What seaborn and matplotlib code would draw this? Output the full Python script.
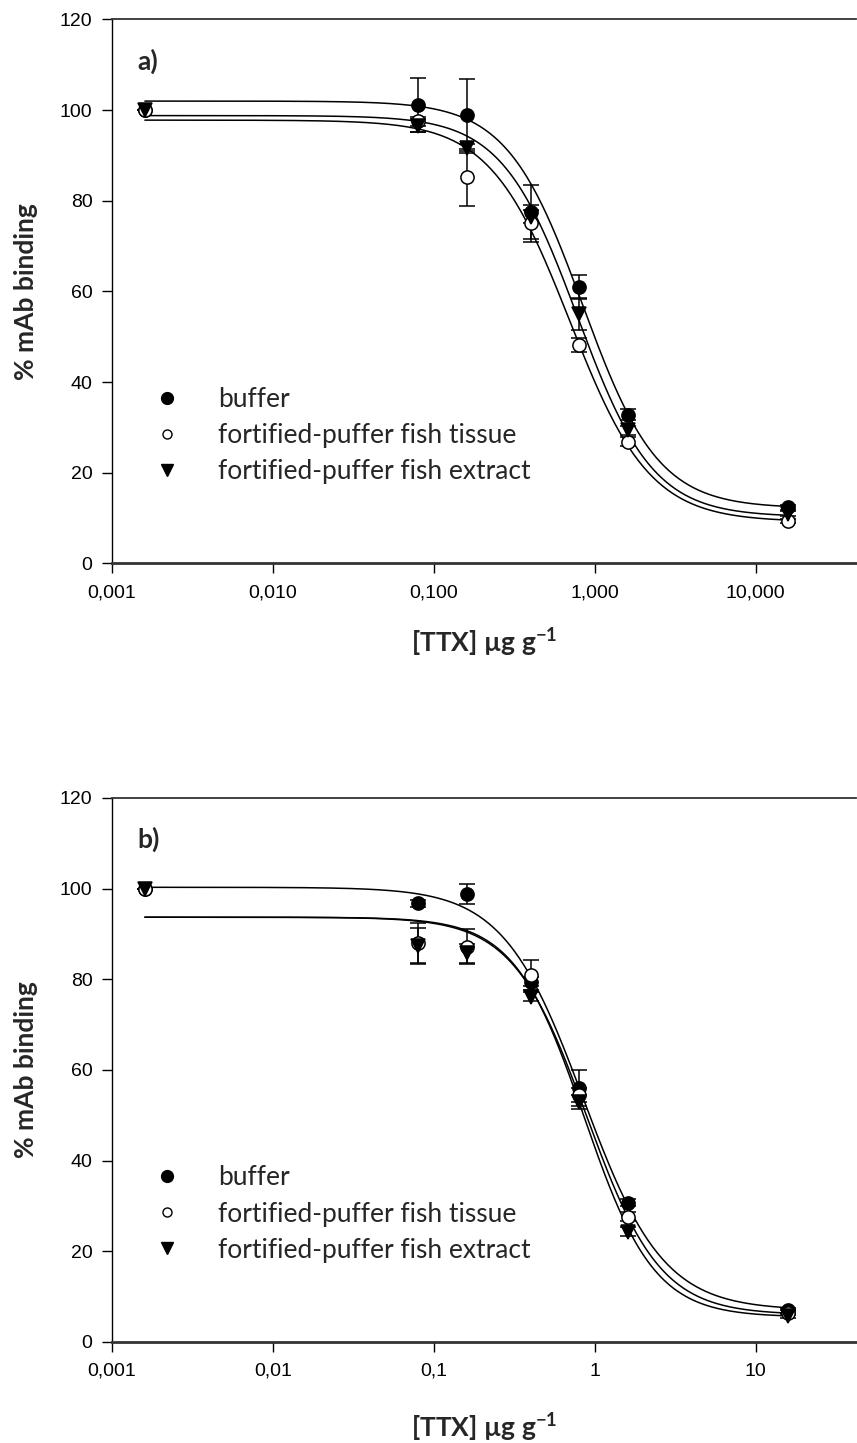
import numpy as np
import pandas as pd
import seaborn as sns
import matplotlib.pyplot as plt
from matplotlib.lines import Line2D

# concentrations ([TTX] ug/g) and series names
conc = [0.0016, 0.08, 0.16, 0.4, 0.8, 1.6, 16]
series = ['buffer', 'fortified-puffer fish tissue', 'fortified-puffer fish extract']

# panel a) values (% mAb binding) and error bars
a_buffer = [100, 101.1, 98.9, 77.5, 61.0, 32.8, 12.4]
a_buffer_err = [0, 6.0, 8.0, 6.0, 2.6, 1.2, 0.6]
a_tissue = [100, 97.5, 85.2, 75.0, 48.2, 26.9, 9.4]
a_tissue_err = [0, 1.0, 6.3, 4.0, 1.5, 1.0, 0.5]
a_extract = [100, 96.6, 91.6, 76.5, 55.0, 29.4, 11.0]
a_extract_err = [0, 1.5, 1.0, 1.5, 3.5, 1.0, 0.5]
# 4-parameter logistic fits: top, bottom, IC50, hill slope
a_buffer_fit = [102.0, 12.2, 0.84, 1.85]
a_tissue_fit = [97.8, 9.2, 0.70, 1.75]
a_extract_fit = [98.8, 10.3, 0.78, 1.85]

# panel b)
b_buffer = [100, 96.8, 98.8, 79.5, 56.0, 30.7, 7.0]
b_buffer_err = [0, 0.8, 2.2, 1.0, 3.9, 0.8, 0.5]
b_tissue = [100, 88.0, 87.2, 81.0, 54.5, 27.6, 6.5]
b_tissue_err = [0, 4.5, 3.8, 3.3, 1.5, 1.0, 0.5]
b_extract = [100, 87.3, 85.7, 76.2, 53.0, 24.3, 5.8]
b_extract_err = [0, 4.0, 2.0, 1.0, 1.5, 1.0, 0.5]
b_buffer_fit = [100.3, 7.0, 0.85, 1.75]
b_tissue_fit = [93.7, 6.0, 0.89, 1.90]
b_extract_fit = [93.7, 5.5, 0.86, 2.00]

xticks = [0.001, 0.01, 0.1, 1, 10]
a_xticklabels = ['0,001', '0,010', '0,100', '1,000', '10,000']
b_xticklabels = ['0,001', '0,01', '0,1', '1', '10']
yticks = [0, 20, 40, 60, 80, 100, 120]

sns.set_style("ticks")
plt.rcParams['mathtext.fontset'] = 'custom'
plt.rcParams['mathtext.bf'] = 'Lato:bold'
plt.rcParams['mathtext.rm'] = 'Lato:bold'

# marker, face colour, legend marker size
markers = {'buffer': ('o', 'black', 8.5),
           'fortified-puffer fish tissue': ('o', 'white', 6.5),
           'fortified-puffer fish extract': ('v', 'black', 8)}


def four_pl(x, p):
    top, bottom, ic50, hill = p
    return bottom + (top - bottom) / (1 + (x / ic50) ** hill)


def draw_panel(ax, vals, errs, fits, xticklabels, tag, xlab_y):
    # fitted curves
    xs = np.logspace(np.log10(conc[0]), np.log10(conc[-1]), 400)
    curves = pd.concat([pd.DataFrame({'x': xs, 'y': four_pl(xs, p), 'series': s})
                        for s, p in zip(series, fits)])
    sns.lineplot(data=curves, x='x', y='y', units='series', estimator=None,
                 color='black', lw=1.1, ax=ax, legend=False)
    # points with error bars
    for s, v, e in zip(series, vals, errs):
        m, fc, _ = markers[s]
        ax.errorbar(conc, v, yerr=e, fmt=m, ms=9.5 if m == 'o' else 10.5,
                    mfc=fc, mec='black', mew=1.1, ecolor='black',
                    elinewidth=1.1, capsize=6, capthick=1.1, zorder=3)

    ax.set_xscale('log')
    ax.set_xlim(0.001, 42)
    ax.set_ylim(0, 120)
    ax.set_xticks(xticks)
    ax.set_xticklabels(xticklabels)
    ax.minorticks_off()
    ax.set_yticks(yticks)
    ax.tick_params(direction='out', length=7, width=1, labelsize=14,
                   colors='black')
    ax.tick_params(axis='y', pad=7)
    ax.tick_params(axis='x', pad=8)
    for lab in ax.get_xticklabels() + ax.get_yticklabels():
        lab.set_family(['Liberation Sans', 'DejaVu Sans'])

    ax.spines['right'].set_visible(False)
    ax.spines['left'].set_linewidth(1.0)
    ax.spines['left'].set_color('black')
    ax.spines['bottom'].set_linewidth(2.0)
    ax.spines['bottom'].set_color('#333333')
    ax.spines['top'].set_linewidth(1.3)
    ax.spines['top'].set_color('#333333')

    ax.set_ylabel('% mAb binding', fontsize=19, fontweight='bold', family='Lato')
    ax.yaxis.set_label_coords(-0.10, 0.5)
    ax.set_xlabel('[TTX] \u00b5g g$^{\\mathbf{-1}}$', fontsize=19,
                  fontweight='bold', family='Lato')
    ax.xaxis.set_label_coords(0.5, xlab_y)

    ax.text(0.034, 0.908, tag, transform=ax.transAxes, fontsize=19,
            fontweight='bold', family='Lato', va='baseline')

    handles = [Line2D([], [], ls='none', marker=markers[s][0],
                      mfc=markers[s][1], mec='black', mew=1.0,
                      ms=markers[s][2]) for s in series]
    ax.legend(handles, series, loc='upper left', bbox_to_anchor=(0.0562, 0.3245),
              frameon=False, borderaxespad=0, borderpad=0, handlelength=1.0,
              handletextpad=1.43, labelspacing=0.42,
              prop={'family': 'Lato', 'size': 19})


fig = plt.figure(figsize=(8.57, 14.43), dpi=100)
ax_a = fig.add_axes([0.1307, 0.6095, 0.868, 0.377])
ax_b = fig.add_axes([0.1307, 0.0700, 0.868, 0.377])

draw_panel(ax_a, [a_buffer, a_tissue, a_extract],
           [a_buffer_err, a_tissue_err, a_extract_err],
           [a_buffer_fit, a_tissue_fit, a_extract_fit], a_xticklabels, 'a)', -0.115)
draw_panel(ax_b, [b_buffer, b_tissue, b_extract],
           [b_buffer_err, b_tissue_err, b_extract_err],
           [b_buffer_fit, b_tissue_fit, b_extract_fit], b_xticklabels, 'b)', -0.126)

fig.savefig('out.png', dpi=100)
